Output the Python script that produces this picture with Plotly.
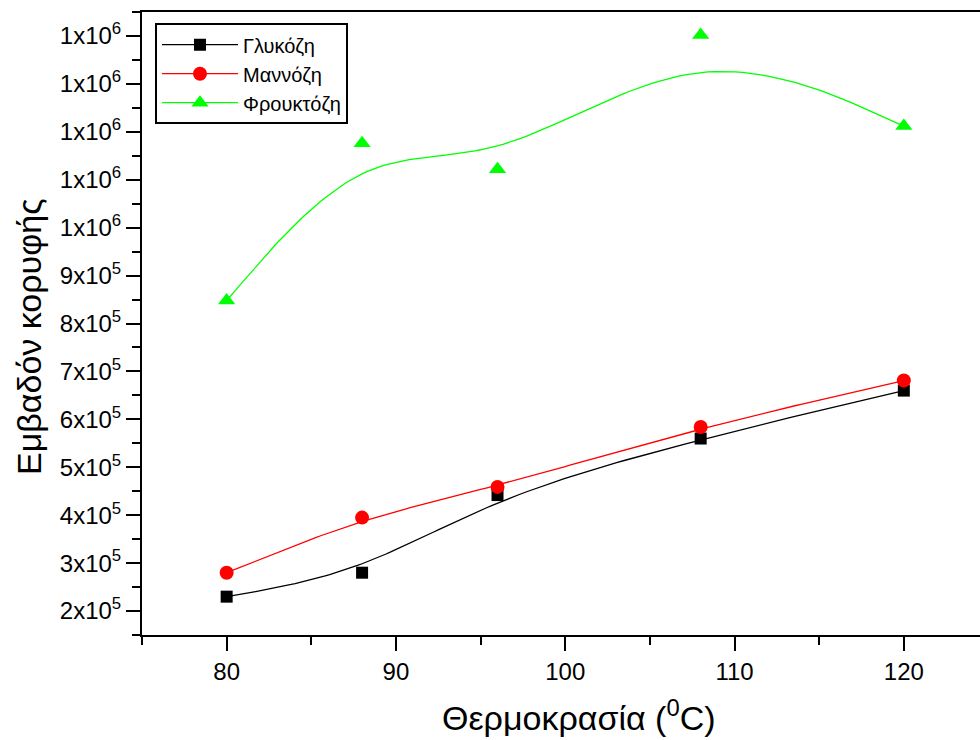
import numpy as np
import plotly.graph_objects as go

# ---- data ----
temperature = [80, 88, 96, 108, 120]
glucose = [2.30e5, 2.80e5, 4.42e5, 5.60e5, 6.60e5]
mannose = [2.80e5, 3.95e5, 4.59e5, 5.84e5, 6.81e5]
fructose = [8.48e5, 1.176e6, 1.122e6, 1.402e6, 1.212e6]
series_names = ["Γλυκόζη", "Μαννόζη", "Φρουκτόζη"]

y_tickvals = [2e5, 3e5, 4e5, 5e5, 6e5, 7e5, 8e5, 9e5, 1.0e6, 1.1e6, 1.2e6, 1.3e6, 1.4e6]
y_ticktext = ["2x10<sup>5</sup>", "3x10<sup>5</sup>", "4x10<sup>5</sup>", "5x10<sup>5</sup>",
              "6x10<sup>5</sup>", "7x10<sup>5</sup>", "8x10<sup>5</sup>", "9x10<sup>5</sup>",
              "1x10<sup>6</sup>", "1x10<sup>6</sup>", "1x10<sup>6</sup>", "1x10<sup>6</sup>",
              "1x10<sup>6</sup>"]
x_tickvals = [80, 90, 100, 110, 120]
x_title = "Θερμοκρασία (<sup>0</sup>C)"
y_title = "Εμβαδόν κορυφής"


def bspline_line(xs, ys, n=30):
    """Uniform cubic B-spline connection line, data points as control points,
    end points tripled so the curve starts/ends on the first/last point."""
    P = np.column_stack([xs, ys]).astype(float)
    Q = np.vstack([P[0], P[0], P, P[-1], P[-1]])
    t = np.linspace(0, 1, n)[:, None]
    b0 = (1 - t) ** 3 / 6
    b1 = (3 * t ** 3 - 6 * t ** 2 + 4) / 6
    b2 = (-3 * t ** 3 + 3 * t ** 2 + 3 * t + 1) / 6
    b3 = t ** 3 / 6
    out = []
    for i in range(len(Q) - 3):
        seg = b0 * Q[i] + b1 * Q[i + 1] + b2 * Q[i + 2] + b3 * Q[i + 3]
        out.append(seg if i == 0 else seg[1:])
    out = np.vstack(out)
    return out[:, 0], out[:, 1]


colors = ["#000000", "#ff0000", "#00ff00"]
symbols = ["square", "circle", "triangle-up"]
sizes = [12, 14, 15]
datasets = [glucose, mannose, fructose]

fig = go.Figure()
for name, data, col, sym, sz in zip(series_names, datasets, colors, symbols, sizes):
    cx, cy = bspline_line(temperature, data)
    fig.add_trace(go.Scatter(x=cx, y=cy, mode="lines", line=dict(color=col, width=1.3),
                             showlegend=False, hoverinfo="skip"))
    fig.add_trace(go.Scatter(x=temperature, y=data, mode="markers",
                             marker=dict(symbol=sym, size=sz, color=col, line=dict(width=0)),
                             showlegend=False))
    fig.add_trace(go.Scatter(x=[None], y=[None], mode="lines+markers", name=name,
                             line=dict(color=col, width=1.3),
                             marker=dict(symbol=sym, size=sz, color=col, line=dict(width=0))))

font_family = "Arial, Liberation Sans, sans-serif"
fig.update_layout(
    width=980, height=740,
    margin=dict(l=142, r=0, t=12, b=105),
    paper_bgcolor="white", plot_bgcolor="white",
    font=dict(family=font_family, color="black"),
    showlegend=True,
    legend=dict(x=0.0155, y=0.982, xanchor="left", yanchor="top",
                bordercolor="black", borderwidth=2, bgcolor="white",
                font=dict(size=20, family=font_family), itemwidth=76,
                tracegroupgap=0),
    xaxis=dict(range=[75, 124.5], tickmode="array", tickvals=x_tickvals,
               showgrid=False, zeroline=False, showline=True, linecolor="black",
               linewidth=2, mirror=True, ticks="outside", ticklen=14, tickwidth=2,
               tickcolor="black", tickfont=dict(size=24),
               minor=dict(tick0=75, dtick=5, ticks="outside", ticklen=8, tickwidth=2,
                          tickcolor="black")),
    yaxis=dict(range=[1.5e5, 1.45e6], tickmode="array", tickvals=y_tickvals,
               ticktext=y_ticktext, showgrid=False, zeroline=False, showline=True,
               linecolor="black", linewidth=2, mirror=False, ticks="outside",
               ticklen=14, tickwidth=2, tickcolor="black", tickfont=dict(size=24),
               minor=dict(tick0=0, dtick=5e4, ticks="outside", ticklen=8, tickwidth=2,
                          tickcolor="black")),
    annotations=[
        dict(text=x_title, xref="paper", yref="paper", x=(579 - 142) / 838, y=-(715 - 635) / 623,
             xanchor="center", yanchor="middle", showarrow=False,
             font=dict(size=34, family=font_family)),
        dict(text=y_title, xref="paper", yref="paper", x=-(142 - 29) / 838, y=(635 - 337) / 623,
             xanchor="center", yanchor="middle", showarrow=False, textangle=-90,
             font=dict(size=34, family=font_family)),
    ],
)

fig.write_html("out.html")
